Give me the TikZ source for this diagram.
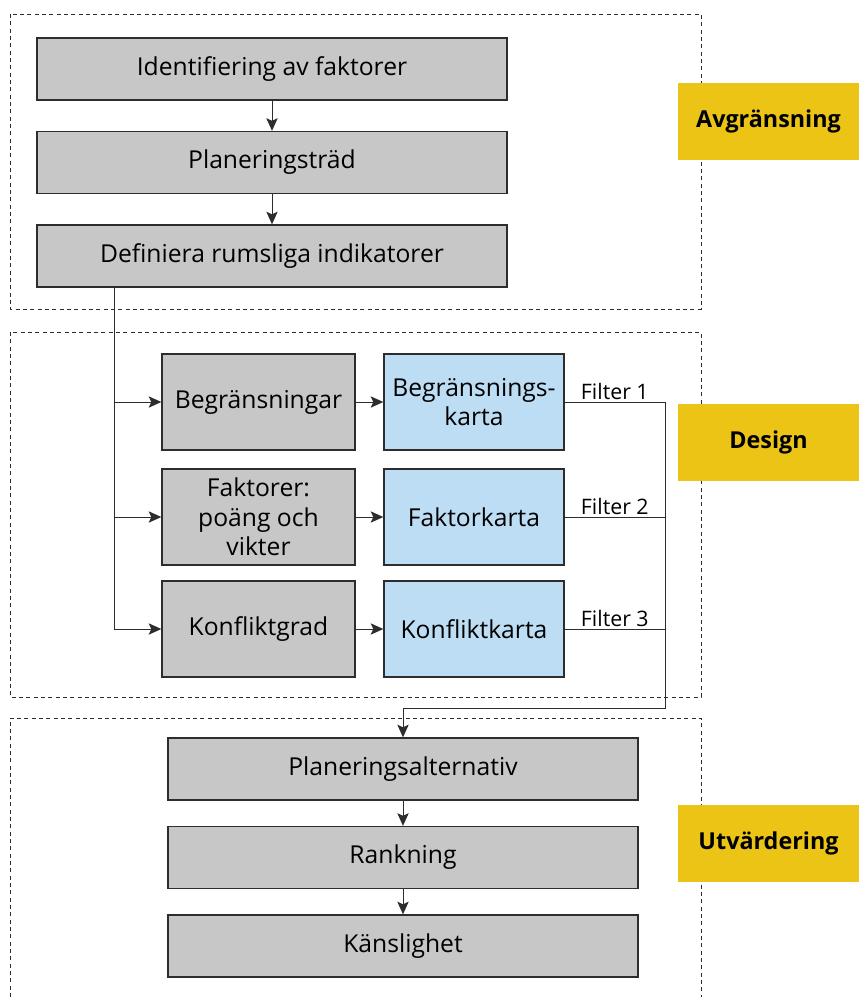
\documentclass[tikz,border=0pt]{standalone}
\usepackage{fontspec}
\setmainfont{Open Sans}
\usetikzlibrary{arrows.meta}

\definecolor{boxgray}{RGB}{199,199,199}
\definecolor{mapblue}{RGB}{189,221,244}
\definecolor{phaseyellow}{RGB}{236,196,22}
\definecolor{linegray}{RGB}{45,45,45}

\tikzset{
  stepbox/.style={draw=linegray, line width=1pt, fill=boxgray, align=center,
    minimum width=352.5pt, minimum height=46.5pt, inner sep=0pt},
  inbox/.style={stepbox, minimum width=144.75pt, minimum height=72pt},
  mapbox/.style={inbox, fill=mapblue, minimum width=135pt},
  phaselabel/.style={fill=phaseyellow, font=\fontsize{17.5}{21}\selectfont\bfseries, inner sep=0pt,
    minimum width=135.75pt, minimum height=57.75pt},
  phasebox/.style={linegray, line width=0.6pt, dash pattern=on 3pt off 2.5pt},
  flow/.style={linegray, line width=0.75pt, -{Stealth[length=9.5pt,width=8.5pt,inset=2pt]}},
  filterlabel/.style={above, font=\fontsize{16}{19}\selectfont, inner sep=1.5pt, text=black}
}

\begin{document}
\begin{tikzpicture}[x=0.75pt,y=-0.75pt,font=\fontsize{18.5}{22}\selectfont]
\useasboundingbox (0,0) rectangle (859,997);

% phases
\draw [phasebox] (10,14) rectangle (701,309);
\draw [phasebox] (10,332) rectangle (701,697);
\draw [phasebox] (10,997) -- (10,718) -- (701,718) -- (701,997);

% labels
\node [phaselabel] (avgr) at (768.5,121.5) {Avgränsning};
\node [phaselabel] (design) at (768.5,442) {Design};
\node [phaselabel] (utv) at (768.5,843.5) {Utvärdering};

% avgränsning
\node [stepbox] (ident) at (272,69) {Identifiering av faktorer};
\node [stepbox] (plantrad) at (272,162.5) {Planeringsträd};
\node [stepbox] (indik) at (272,256) {Definiera rumsliga indikatorer};
\draw [flow] (ident) -- (plantrad);
\draw [flow] (plantrad) -- (indik);

% design
\node [inbox] (begr) at (258.5,402) {Begränsningar};
\node [inbox] (fakt) at (258.5,517) {Faktorer:\\poäng och\\vikter};
\node [inbox] (konf) at (258.5,629) {Konfliktgrad};
\node [mapbox] (begrkarta) at (474,402) {Begränsnings-\\karta};
\node [mapbox] (faktkarta) at (474,517) {Faktorkarta};
\node [mapbox] (konfkarta) at (474,629) {Konfliktkarta};

\coordinate (trunk) at (114,629);
\draw [flow] (indik.south -| trunk) |- (konf.west);
\draw [flow] (trunk |- begr.west) -- (begr.west);
\draw [flow] (trunk |- fakt.west) -- (fakt.west);
\draw [flow] (begr) -- (begrkarta);
\draw [flow] (fakt) -- (faktkarta);
\draw [flow] (konf) -- (konfkarta);

% filters
\coordinate (collect) at (665,708);
\draw [linegray, line width=0.75pt] (begrkarta.east) -- (begrkarta.east -| collect) node[midway, filterlabel]{Filter 1};
\draw [linegray, line width=0.75pt] (faktkarta.east) -- (faktkarta.east -| collect) node[midway, filterlabel]{Filter 2};
\draw [linegray, line width=0.75pt] (konfkarta.east) -- (konfkarta.east -| collect) node[midway, filterlabel]{Filter 3};

% utvärdering
\node [stepbox] (alt) at (403,769) {Planeringsalternativ};
\node [stepbox] (rank) at (403,857.5) {Rankning};
\node [stepbox] (kansl) at (403,946) {Känslighet};
\draw [flow] (begrkarta.east -| collect) -- (collect) -| (alt.north);
\draw [flow] (alt) -- (rank);
\draw [flow] (rank) -- (kansl);

\end{tikzpicture}
\end{document}
